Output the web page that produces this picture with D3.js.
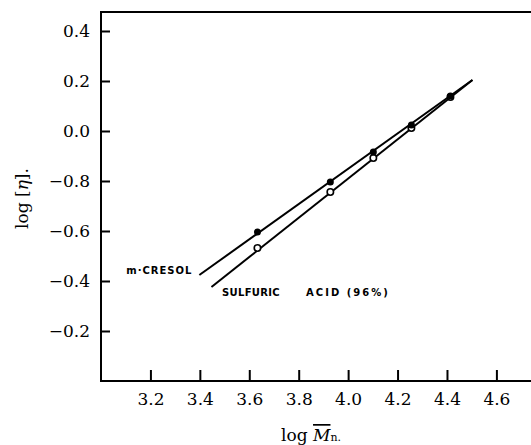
<!DOCTYPE html>
<html>
<head>
<meta charset="utf-8">
<script src="https://cdn.jsdelivr.net/npm/d3@7.8.5/dist/d3.min.js"></script>
<style>
  body { margin: 0; background: #fff; }
  svg { display: block; }
</style>
</head>
<body>
<div id="chart"></div>
<script>
// x = log Mn, y = log [eta]
const xTicks = [3.2, 3.4, 3.6, 3.8, 4.0, 4.2, 4.4, 4.6]
const yTicks = [0.4, 0.2, 0.0, -0.2, -0.4, -0.6, -0.8]
const yTickLabels = ["0.4", "0.2", "0.0", "\u22120.8", "\u22120.6", "\u22120.4", "\u22120.2"]

const logM = [3.633, 3.928, 4.102, 4.256, 4.414]
const cresolPoints = [-0.404, -0.204, -0.084, 0.024, 0.140]
const sulfuricPoints = [-0.468, -0.244, -0.108, 0.012, 0.136]

// fitted lines, end points
const cresolLine = [[3.398, -0.576], [4.503, 0.204]]
const sulfuricLine = [[3.447, -0.624], [4.503, 0.204]]

const width = 531, height = 445
const margin = {top: 12, right: 0, bottom: 64, left: 101}

const svg = d3.select("#chart").append("svg")
  .attr("width", width)
  .attr("height", height)

const x = d3.scaleLinear()
  .domain([3.0, 4.74])
  .range([margin.left, width - margin.right])

const y = d3.scaleLinear()
  .domain([-1.0, 0.476])
  .range([height - margin.bottom, margin.top])

const serif = "'DejaVu Serif', serif"
const sans = "'DejaVu Sans', sans-serif"

// frame: top, left, bottom (no right side)
svg.append("path")
  .attr("d", `M${x(4.74)},${y(0.476)}H${x(3.0)}V${y(-1.0)}H${x(4.74)}`)
  .attr("fill", "none")
  .attr("stroke", "#000")
  .attr("stroke-width", 2)

const xAxis = svg.append("g")
  .attr("transform", `translate(0,${y(-1.0)})`)
  .call(d3.axisBottom(x)
    .tickValues(xTicks)
    .tickFormat(d3.format(".1f"))
    .tickSizeInner(-11)
    .tickSizeOuter(0)
    .tickPadding(12))
xAxis.select(".domain").remove()
xAxis.selectAll(".tick line").attr("stroke-width", 2)
xAxis.selectAll("text").attr("font-family", serif).attr("font-size", 17)

const yAxis = svg.append("g")
  .attr("transform", `translate(${x(3.0)},0)`)
  .call(d3.axisLeft(y)
    .tickValues(yTicks)
    .tickFormat((d, i) => yTickLabels[i])
    .tickSizeInner(-9)
    .tickSizeOuter(0)
    .tickPadding(11))
yAxis.select(".domain").remove()
yAxis.selectAll(".tick line").attr("stroke-width", 2)
yAxis.selectAll("text").attr("font-family", serif).attr("font-size", 17)

// axis titles
const yTitle = svg.append("text")
  .attr("transform", `translate(28,${y(-0.27)}) rotate(-90)`)
  .attr("text-anchor", "middle")
  .attr("font-family", serif)
  .attr("font-size", 17)
yTitle.append("tspan").text("log [")
yTitle.append("tspan").attr("font-style", "italic").text("\u03b7")
yTitle.append("tspan").text("].")

const xTitle = svg.append("text")
  .attr("x", x(3.85))
  .attr("y", height - 4)
  .attr("text-anchor", "middle")
  .attr("font-family", serif)
  .attr("font-size", 17)
xTitle.append("tspan").text("log ")
xTitle.append("tspan").attr("font-style", "italic").style("text-decoration", "overline").text("M")
xTitle.append("tspan").attr("font-size", 11).text("n.")

// fitted lines
const line = d3.line().x(d => x(d[0])).y(d => y(d[1]))
for (const seg of [cresolLine, sulfuricLine]) {
  svg.append("path")
    .attr("d", line(seg))
    .attr("fill", "none")
    .attr("stroke", "#000")
    .attr("stroke-width", 2)
}

// open points: sulfuric acid
svg.append("g").selectAll("circle")
  .data(logM.map((m, i) => [m, sulfuricPoints[i]]))
  .join("circle")
    .attr("cx", d => x(d[0]))
    .attr("cy", d => y(d[1]))
    .attr("r", 3.2)
    .attr("fill", "#fff")
    .attr("stroke", "#000")
    .attr("stroke-width", 1.6)

// filled points: m-cresol
svg.append("g").selectAll("circle")
  .data(logM.map((m, i) => [m, cresolPoints[i]]))
  .join("circle")
    .attr("cx", d => x(d[0]))
    .attr("cy", d => y(d[1]))
    .attr("r", 3.5)
    .attr("fill", "#000")

// series labels
const seriesLabel = (xv, yv, text, anchor, spacing) =>
  svg.append("text")
    .attr("x", x(xv))
    .attr("y", y(yv))
    .attr("text-anchor", anchor)
    .attr("font-family", sans)
    .attr("font-weight", "bold")
    .attr("font-size", 10)
    .attr("letter-spacing", spacing)
    .text(text)

seriesLabel(3.37, -0.572, "m\u00b7CRESOL", "end", 1)
seriesLabel(3.49, -0.66, "SULFURIC", "start", 0.3)
seriesLabel(3.83, -0.66, "ACID (96%)", "start", 2)
</script>
</body>
</html>
